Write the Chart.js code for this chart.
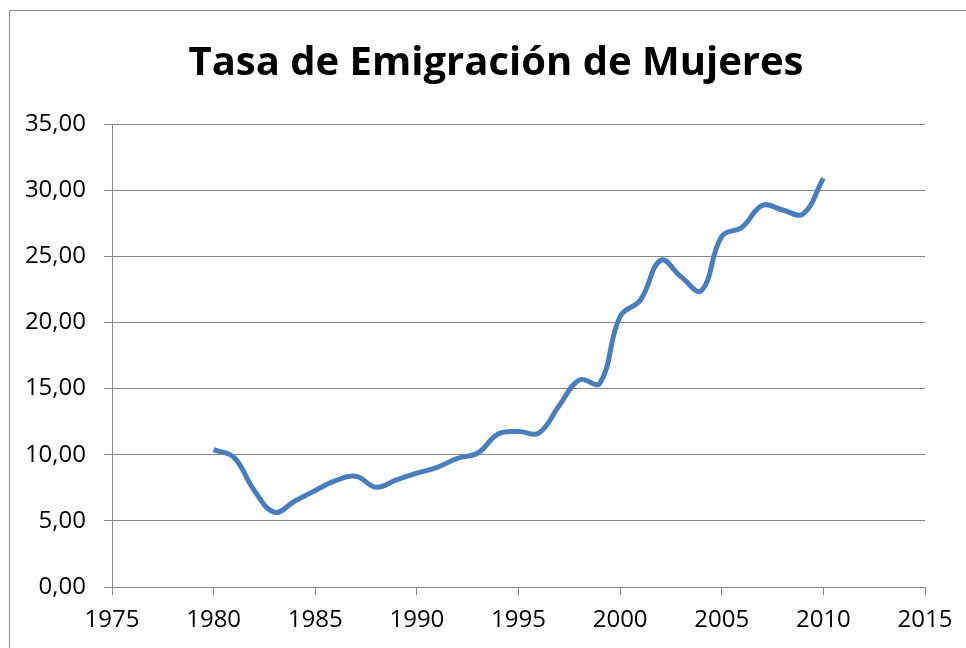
<!DOCTYPE html>
<html>
<head>
<meta charset="utf-8">
<script src="https://cdn.jsdelivr.net/npm/chart.js@4"></script>
<style>
  html, body { margin: 0; padding: 0; background: #fff; }
  #wrap { width: 966px; height: 648px; }
</style>
</head>
<body>
<div id="wrap"><canvas id="chart" width="966" height="648"></canvas></div>
<script>
// datos
var anios = [1980, 1981, 1982, 1983, 1984, 1985, 1986, 1987, 1988, 1989,
             1990, 1991, 1992, 1993, 1994, 1995, 1996, 1997, 1998, 1999,
             2000, 2001, 2002, 2003, 2004, 2005, 2006, 2007, 2008, 2009, 2010];
var tasa = [10.38, 9.8, 7.3, 5.65, 6.5, 7.3, 8.04, 8.37, 7.54, 8.1,
            8.6, 9.05, 9.73, 10.13, 11.56, 11.75, 11.64, 13.7, 15.66, 15.4,
            20.45, 21.7, 24.7, 23.45, 22.4, 26.5, 27.2, 28.85, 28.5, 28.2, 30.9];
var titulo = 'Tasa de Emigración de Mujeres';

var puntos = anios.map(function (a, i) { return { x: a, y: tasa[i] }; });

var marco = {
    id: 'marco',
    beforeDraw: function (chart) {
        var c = chart.ctx;
        c.save();
        c.fillStyle = '#fff';
        c.fillRect(0, 0, chart.width, chart.height);
        c.strokeStyle = '#8c8c8c';
        c.lineWidth = 1;
        c.strokeRect(9.5, 10.5, 1200, 1200);
        c.restore();
    }
};

var gris = '#868686';
var ctx = document.getElementById('chart').getContext('2d');

var chart = new Chart(ctx, {
    type: 'line',
    data: {
        datasets: [{
            data: puntos,
            borderColor: '#4a7ebb',
            borderWidth: 5,
            pointRadius: 0,
            tension: 0.4,
            fill: false
        }]
    },
    options: {
        responsive: false,
        animation: false,
        layout: { padding: { left: 26, right: 0, top: 0, bottom: 0 } },
        plugins: {
            legend: { display: false },
            tooltip: { enabled: false },
            title: {
                display: true,
                text: titulo,
                color: '#000',
                font: { family: 'Open Sans', size: 40, weight: 'bold', lineHeight: 1.2 },
                padding: { top: 40, bottom: 36 }
            }
        },
        scales: {
            x: {
                type: 'linear',
                min: 1975,
                max: 2015,
                afterFit: function (s) { s.height = 61; },
                ticks: {
                    stepSize: 5,
                    color: '#000',
                    padding: 11,
                    maxRotation: 0,
                    font: { family: 'Open Sans', size: 24 },
                    callback: function (v) { return String(v); }
                },
                grid: {
                    drawOnChartArea: false,
                    drawTicks: true,
                    tickLength: 8,
                    color: gris
                },
                border: { color: gris, width: 1 }
            },
            y: {
                min: 0,
                max: 35,
                afterFit: function (s) { s.width = 86; },
                ticks: {
                    stepSize: 5,
                    color: '#000',
                    padding: 18,
                    font: { family: 'Open Sans', size: 24 },
                    callback: function (v) { return v.toFixed(2).replace('.', ','); }
                },
                grid: {
                    color: gris,
                    tickLength: 8,
                    drawTicks: true
                },
                border: { color: gris, width: 1 }
            },
            // eje vacio a la derecha, solo reserva el margen
            derecha: {
                type: 'linear',
                position: 'right',
                afterFit: function (s) { s.width = 41; },
                ticks: { display: false },
                grid: { display: false },
                border: { display: false }
            }
        }
    },
    plugins: [marco]
});
</script>
</body>
</html>
